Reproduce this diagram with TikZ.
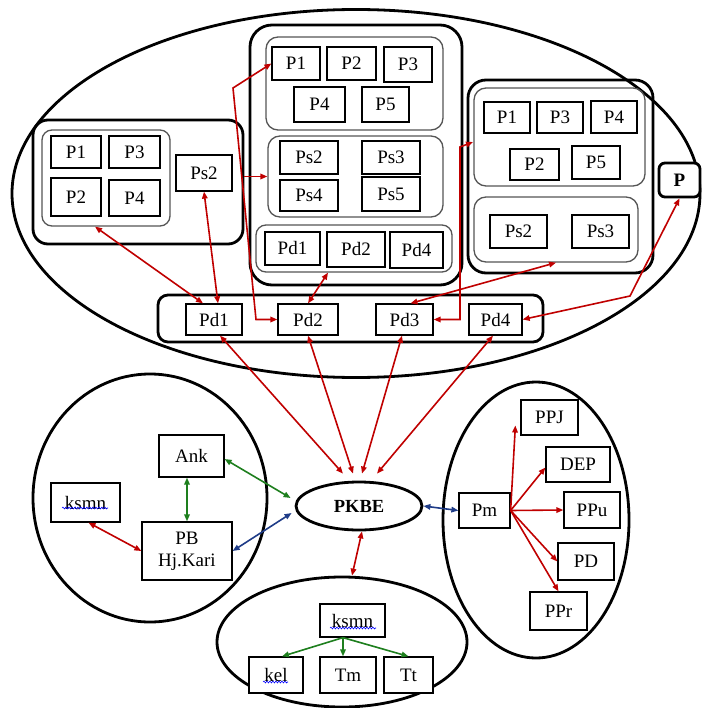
\documentclass[tikz,border=0pt]{standalone}
\usepackage{fontspec}
\setmainfont{Liberation Serif}
\usetikzlibrary{arrows.meta,shapes.geometric,decorations.pathmorphing,calc}
\definecolor{ared}{HTML}{C00000}
\definecolor{agreen}{HTML}{1E7F1E}
\definecolor{ablue}{HTML}{1F3C88}
\definecolor{ingray}{HTML}{555555}
\newcommand\bx[6]{\node[box, minimum width={#4-#2}, minimum height={#5-#3}] (#1) at ({(#2+#4)/2},{(#3+#5)/2}) {#6};}
\newcommand\gx[6]{\node[#6, minimum width={#4-#2}, minimum height={#5-#3}] (#1) at ({(#2+#4)/2},{(#3+#5)/2}) {};}
\begin{document}
\begin{tikzpicture}[x=1pt,y=-1pt, font=\fontsize{19}{22}\selectfont,
 >={Triangle[length=7pt,width=5.5pt]},
 box/.style={draw, line width=1.25pt, inner sep=0pt, fill=white},
 outer/.style={draw, line width=2.8pt, rounded corners=#1, inner sep=0pt},
 inner/.style={draw=ingray, line width=1.3pt, rounded corners=#1, inner sep=0pt},
 oval/.style={ellipse, draw, line width=2.8pt, inner sep=0pt},
 rarr/.style={draw=ared, line width=1.6pt, <->},
 rarr1/.style={draw=ared, line width=1.6pt, ->},
 garr/.style={draw=agreen, line width=1.6pt, <->},
 garr1/.style={draw=agreen, line width=1.6pt, ->},
 barr/.style={draw=ablue, line width=1.6pt, <->},
 squig/.style={draw=blue, line width=0.6pt, decorate, decoration={snake, amplitude=0.9pt, segment length=3pt}}]
\fill[white] (0,0) rectangle (703,708);
\useasboundingbox (0,0) rectangle (703,708);
% top ellipse
\node[oval, minimum width=688, minimum height=368] (TE) at (356,193.5) {};
% left group
\gx{LG}{33}{120}{243}{244}{outer=15}
\gx{LGi}{42}{130}{170}{226}{inner=10}
\bx{LP1}{51}{136}{101}{168}{P1}
\bx{LP3}{109}{136}{160}{168}{P3}
\bx{LP2}{51}{178}{101}{216}{P2}
\bx{LP4}{109}{180}{160}{216}{P4}
\bx{LPs2}{176}{155}{232}{191}{Ps2}
% middle group
\gx{MG}{250}{25}{462}{285}{outer=22}
\gx{MGa}{266}{37}{443}{130}{inner=12}
\bx{MP1}{272}{47}{320}{80}{P1}
\bx{MP2}{327}{47}{376}{80}{P2}
\bx{MP3}{384}{47}{432}{82}{P3}
\bx{MP4}{294}{87}{345}{122}{P4}
\bx{MP5}{362}{87}{409}{122}{P5}
\gx{MGb}{268}{136}{443}{217}{inner=12}
\bx{MPs2}{280}{141}{338}{174}{Ps2}
\bx{MPs3}{362}{141}{420}{174}{Ps3}
\bx{MPs4}{280}{180}{338}{211}{Ps4}
\bx{MPs5}{362}{177}{420}{211}{Ps5}
\gx{MGc}{256}{225}{452}{272}{inner=10}
\bx{MPd1}{265}{232}{320}{265}{Pd1}
\bx{MPd2}{327}{232}{385}{267}{Pd2}
\bx{MPd4}{390}{232}{443}{268}{Pd4}
% right group
\gx{RG}{468}{80}{653}{273}{outer=18}
\gx{RGa}{474}{88}{645}{186}{inner=12}
\bx{RP1}{484}{102}{530}{133}{P1}
\bx{RP3}{537}{102}{583}{133}{P3}
\bx{RP4}{591}{101}{637}{133}{P4}
\bx{RP2}{510}{149}{559}{180}{P2}
\bx{RP5}{572}{146}{620}{179}{P5}
\gx{RGb}{474}{197}{638}{262}{inner=12}
\bx{RPs2}{490}{215}{547}{248}{Ps2}
\bx{RPs3}{572}{215}{629}{248}{Ps3}
\node[outer=6, fill=white, minimum width=41, minimum height=34, font=\fontsize{19}{22}\selectfont\bfseries] (PP) at (679.5,180) {P};
% bar
\gx{BAR}{158}{295}{543}{342}{outer=10}
\bx{BPd1}{186}{304}{242}{335}{Pd1}
\bx{BPd2}{278}{304}{338}{335}{Pd2}
\bx{BPd3}{376}{304}{433}{335}{Pd3}
\bx{BPd4}{469}{304}{522}{335}{Pd4}
% lower ellipses
\node[oval, minimum width=234, minimum height=248] (LE) at (150,498) {};
\node[oval, minimum width=186, minimum height=276] (RE) at (536,520) {};
\node[oval, minimum width=250, minimum height=130] (BE) at (342,642) {};
\node[oval, minimum width=126, minimum height=48, font=\fontsize{18.5}{22}\selectfont\bfseries] (PK) at (359,506) {PKBE};
% bottom-left
\bx{Ank}{159}{435}{224}{477}{Ank}
\bx{KS}{51}{483}{120}{522}{ksmn}
\node[box, align=center, minimum width=90, minimum height=58] (PB) at (187,551) {PB\\Hj.Kari};
% right
\bx{Pm}{459}{493}{510}{528}{Pm}
\bx{PPJ}{521}{400}{578}{435}{PPJ}
\bx{DEP}{546}{447}{610}{482}{DEP}
\bx{PPu}{564}{492}{620}{528}{PPu}
\bx{PD}{558}{543}{614}{580}{PD}
\bx{PPr}{530}{592}{587}{630}{PPr}
% bottom
\bx{KS2}{320}{604}{385}{637}{ksmn}
\bx{kel}{249}{657}{303}{693}{kel}
\bx{Tm}{320}{657}{376}{693}{Tm}
\bx{Tt}{384}{657}{433}{693}{Tt}
% squiggles
\draw[squig] (62,508) -- (108,508);
\draw[squig] (330,628) -- (376,628);
\draw[squig] (263,682) -- (288,682);
% top arrows
\coordinate (c1) at (256,319.5);
\coordinate (c2) at (233,88);
\coordinate (c3) at (460,319.5);
\coordinate (c4) at (460,147);
\coordinate (c5) at (473,142);
\coordinate (c6) at (630,296);
\draw[rarr] ([xshift=-11pt]LGi.south) -- ([xshift=-11pt]BPd1.north);
\draw[rarr] (LPs2.south) -- ([xshift=4pt]BPd1.north);
\draw[rarr] (BPd2.west) -- (c1) -- (c2) -- (MP1.west);
\draw[rarr1] (LG.east |- MGb.west) -- (MGb.west);
\draw[rarr] (BPd2.north) -- ([xshift=-26pt]MGc.south);
\draw[rarr] (BPd3.east) -- (c3) -- (c4) -- (c5);
\draw[rarr] ([xshift=6pt]BPd3.north) -- (RGb.south);
\draw[rarr] (BPd4.east) -- (c6) -- (PP.south);
% bar to PKBE
\draw[rarr] ([xshift=6pt]BPd1.south) -- ([xshift=-16pt,yshift=7pt]PK.north);
\draw[rarr] (BPd2.south) -- ([xshift=-6pt,yshift=7pt]PK.north);
\draw[rarr] ([xshift=-2.5pt]BPd3.south) -- ([xshift=3pt,yshift=7pt]PK.north);
\draw[rarr] ([xshift=-2.5pt]BPd4.south) -- ([xshift=18pt,yshift=7pt]PK.north);
% bottom-left arrows
\draw[garr] ([yshift=-3pt]Ank.east) -- ([xshift=-4pt,yshift=8pt]PK.west);
\draw[garr] (PB.north |- Ank.south) -- (PB.north);
\draw[rarr] ([xshift=3pt]KS.south) -- (PB.west);
\draw[barr] (PB.east) -- ([xshift=-3pt,yshift=-7pt]PK.west);
\draw[barr] (PK.east) -- (Pm.west);
\draw[rarr] ([xshift=3pt]PK.south) -- ([xshift=10pt]BE.north);
% Pm fan
\draw[rarr1] (Pm.east) -- ([xshift=-5pt,yshift=-8pt]PPJ.west);
\draw[rarr1] (Pm.east) -- ([yshift=-3pt]DEP.west);
\draw[rarr1] (Pm.east) -- (PPu.west);
\draw[rarr1] (Pm.east) -- (PD.west);
\draw[rarr1] (Pm.east) -- (PPr.north);
% bottom fan
\draw[garr1] ([xshift=-9.5pt]KS2.south) -- ([xshift=6pt]kel.north);
\draw[garr1] ([xshift=-9.5pt]KS2.south) -- ([xshift=-5pt]Tm.north);
\draw[garr1] ([xshift=-9.5pt]KS2.south) -- (Tt.north);
\end{tikzpicture}
\end{document}
